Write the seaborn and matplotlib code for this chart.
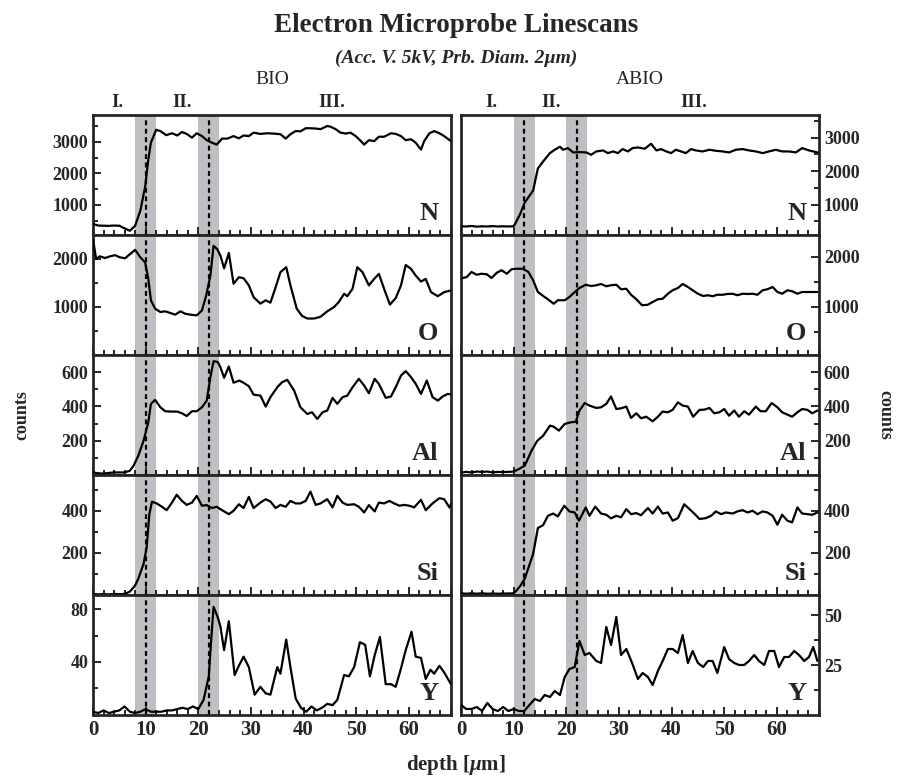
import pandas as pd
import seaborn as sns
import matplotlib.pyplot as plt
from matplotlib.ticker import FixedLocator, MultipleLocator

# Linescan values: (depth in um, counts)
bio_n = [(0, 390), (1, 340), (2, 335), (3, 330), (4, 340), (5, 335), (6, 250), (7, 175), (8, 330), (9, 820),
         (9.9, 1570), (10.5, 2430), (11, 2970), (12, 3380), (12.8, 3340), (13.9, 3210), (15, 3270), (16, 3200),
         (16.9, 3310), (17.8, 3250), (18.8, 3130), (19.7, 3270), (20.7, 3180), (21.6, 3050), (22.6, 2970),
         (23.5, 2910), (24.5, 3100), (25.5, 3100), (26.7, 3180), (27.7, 3110), (28.6, 3200), (29.6, 3180),
         (30.5, 3290), (31.8, 3250), (33.1, 3270), (34.3, 3260), (35.6, 3240), (36.6, 3100), (37.5, 3240),
         (38.5, 3340), (39.4, 3330), (40.4, 3430), (41.3, 3430), (42.3, 3420), (43.2, 3400), (44.5, 3500),
         (45.1, 3480), (46.1, 3400), (47, 3290), (48, 3260), (48.9, 3290), (49.9, 3180), (50.9, 3020),
         (51.5, 2910), (52.4, 3050), (53.4, 3020), (54.3, 3160), (55.3, 3160), (56.6, 3270), (57.5, 3250),
         (58.5, 3180), (59.4, 3050), (60.4, 3080), (61.3, 2970), (62.3, 2750), (62.9, 3020), (63.9, 3270),
         (64.8, 3340), (65.8, 3270), (66.7, 3180), (68, 3020)]
abio_n = [(0, 350), (1, 345), (2, 360), (3, 340), (4, 350), (5, 345), (6, 355), (7, 345), (8, 350), (9, 345),
          (9.9, 350), (10.2, 400), (11.2, 705), (12.1, 1060), (13.7, 1420), (14.6, 2080), (15.6, 2290),
          (16.9, 2540), (17.8, 2640), (18.8, 2730), (19.4, 2640), (20.3, 2690), (21.3, 2560), (22.5, 2570),
          (23.8, 2560), (24.7, 2490), (25.7, 2590), (27, 2620), (27.9, 2540), (28.9, 2590), (29.8, 2540),
          (30.7, 2660), (31.7, 2590), (32.6, 2690), (33.6, 2710), (34.9, 2670), (36.1, 2820), (37.1, 2620),
          (38, 2660), (39, 2590), (39.9, 2540), (40.8, 2640), (41.8, 2590), (42.7, 2540), (43.7, 2660),
          (44.6, 2620), (45.9, 2590), (47.2, 2640), (48.4, 2610), (49.7, 2590), (50.9, 2560), (52.2, 2640),
          (53.5, 2660), (54.7, 2620), (56, 2590), (57.3, 2540), (58.5, 2590), (59.8, 2640), (61, 2590),
          (62.3, 2590), (63.6, 2560), (64.8, 2690), (66.1, 2620), (67.7, 2560)]

bio_o = [(0, 2410), (0.6, 2000), (1.3, 2055), (2.3, 2020), (3.2, 2055), (4.2, 2080), (5.1, 2035), (6.1, 2015),
         (7, 2100), (8, 2190), (9, 2035), (9.9, 1930), (10.5, 1590), (11, 1140), (11.8, 965), (12.8, 895),
         (13.7, 910), (14.7, 875), (15.6, 840), (16.6, 910), (17.5, 860), (18.5, 840), (19.7, 825), (20.7, 930),
         (21.5, 1240), (22.3, 1655), (22.9, 2275), (23.6, 2205), (24.2, 2070), (24.9, 1805), (25.8, 2125),
         (26.7, 1485), (27.7, 1620), (28.6, 1600), (29.6, 1450), (30.5, 1205), (31.8, 1070), (32.8, 1140),
         (33.7, 1090), (34.7, 1415), (35.6, 1725), (36.7, 1830), (37.5, 1450), (38.7, 965), (39.7, 815),
         (40.7, 760), (42, 760), (43.2, 795), (44.5, 910), (45.8, 1000), (46.7, 1105), (47.7, 1275),
         (48.3, 1225), (49.3, 1380), (50.2, 1830), (51.2, 1725), (52.4, 1450), (53.4, 1585), (54.3, 1690),
         (55.4, 1345), (56.4, 1050), (57.5, 1185), (58.5, 1450), (59.4, 1875), (60.4, 1795), (61.3, 1655),
         (62.3, 1530), (63.2, 1585), (64.2, 1310), (65.5, 1225), (66.7, 1310), (68, 1345)]
abio_o = [(0, 1570), (1.1, 1600), (2, 1700), (3, 1645), (3.9, 1665), (4.9, 1655), (5.8, 1580), (6.8, 1685),
          (7.7, 1735), (8.7, 1665), (9.6, 1755), (10.5, 1765), (11.8, 1765), (12.8, 1700), (13.7, 1535),
          (14.6, 1300), (15.6, 1220), (16.5, 1155), (17.6, 1065), (18.4, 1135), (19.7, 1135), (20.6, 1200),
          (21.6, 1300), (22.5, 1380), (23.7, 1445), (24.7, 1420), (25.7, 1435), (26.6, 1460), (27.6, 1415),
          (28.5, 1435), (29.5, 1445), (30.4, 1355), (31.4, 1365), (32.3, 1245), (33.3, 1155), (34.4, 1035),
          (35.5, 1045), (36.4, 1100), (37.4, 1155), (38.3, 1165), (39.3, 1265), (40.2, 1335), (41.2, 1380),
          (42.1, 1460), (43.1, 1400), (44, 1335), (45, 1265), (46, 1220), (46.9, 1235), (47.8, 1215),
          (48.7, 1245), (49.7, 1245), (50.6, 1260), (51.6, 1265), (52.5, 1235), (53.5, 1265), (54.4, 1260),
          (55.4, 1265), (56.3, 1245), (57.3, 1335), (58.2, 1355), (59.2, 1400), (60.1, 1300), (61, 1265),
          (62, 1335), (62.9, 1315), (63.9, 1265), (64.8, 1300), (66.1, 1300), (67.7, 1300)]

bio_al = [(0, 15), (1, 10), (2, 8), (3, 12), (4, 15), (5, 15), (6, 15), (7, 25), (7.7, 54), (8.6, 112),
          (9.6, 200), (10.5, 307), (11, 415), (11.8, 438), (12.8, 395), (13.7, 372), (14.7, 370), (16, 370),
          (16.9, 360), (17.8, 344), (18.8, 372), (19.7, 372), (20.7, 395), (21.6, 434), (22.3, 571), (22.9, 664),
          (23.7, 659), (24.2, 629), (24.9, 567), (25.8, 633), (26.7, 538), (27.8, 551), (28.6, 538), (29.6, 518),
          (30.5, 469), (31.8, 463), (32.8, 399), (33.7, 454), (35, 512), (35.9, 541), (36.9, 555), (38.2, 493),
          (39.4, 395), (40.7, 356), (41.6, 366), (42.6, 327), (43.6, 366), (44.5, 376), (45.5, 450), (46.4, 415),
          (47.4, 454), (48.3, 463), (49.3, 512), (50.5, 561), (51.5, 522), (52.4, 477), (53.5, 561), (54.3, 531),
          (55.6, 450), (56.6, 458), (57.5, 512), (58.5, 580), (59.4, 606), (60.4, 571), (61.3, 532), (62.3, 473),
          (63.4, 551), (64.5, 454), (65.5, 434), (66.4, 458), (67.4, 473), (68.3, 469)]
abio_al = [(0, 15), (1, 18), (2, 15), (3, 20), (4, 18), (5, 20), (6, 15), (7, 18), (8, 17), (9, 18), (10, 20),
           (11, 35), (12.1, 54), (13.4, 142), (14.5, 200), (15.6, 229), (16.9, 288), (17.6, 282), (18.6, 259),
           (19.7, 298), (20.8, 307), (21.8, 311), (22.5, 376), (23.5, 420), (24.4, 405), (25.7, 391), (26.6, 395),
           (27.6, 415), (28.5, 458), (29.5, 385), (30.4, 389), (31.4, 399), (32.3, 333), (33.3, 360), (34.2, 331),
           (35.2, 340), (36.4, 313), (37.4, 340), (38.3, 370), (39.3, 366), (40.2, 380), (41.2, 424), (42.1, 405),
           (43.1, 399), (44.1, 340), (45.3, 380), (46.2, 381), (47.2, 391), (48.1, 360), (49.1, 366), (50, 385),
           (50.9, 346), (51.9, 376), (52.8, 340), (53.8, 372), (54.7, 352), (56, 399), (56.9, 372), (57.9, 372),
           (59, 420), (60.1, 395), (61, 366), (62, 352), (62.9, 340), (63.9, 366), (64.8, 385), (65.8, 380),
           (66.7, 360), (67.7, 376)]

bio_si = [(0, 5), (1, 3), (2, 4), (3, 3), (4, 5), (5, 4), (6, 5), (7, 16), (8, 45), (8.6, 77), (9.6, 148),
          (10.2, 227), (10.7, 384), (11.2, 443), (12.1, 435), (13.1, 419), (14, 403), (15, 439), (15.9, 476),
          (16.9, 447), (17.8, 428), (18.8, 439), (19.7, 471), (20.7, 424), (21.6, 427), (22.6, 413), (23.5, 419),
          (24.5, 403), (25.8, 384), (26.7, 400), (27.7, 431), (28.6, 413), (29.6, 466), (30.5, 413), (31.8, 439),
          (32.8, 455), (33.7, 444), (34.7, 413), (35.6, 428), (36.6, 419), (37.5, 447), (38.5, 435), (39.4, 435),
          (40.4, 447), (41.3, 491), (42.3, 428), (43.2, 435), (44.5, 455), (45.5, 416), (46.4, 471), (47.4, 439),
          (48.3, 428), (49.6, 431), (50.5, 419), (51.5, 392), (52.4, 427), (53.5, 397), (54.3, 439), (55.3, 435),
          (56.3, 447), (57.2, 435), (58.2, 424), (59.1, 428), (60.1, 424), (61, 416), (62.3, 452), (63.2, 403),
          (64.5, 435), (65.8, 460), (66.7, 455), (67.7, 416), (68.3, 447)]
abio_si = [(0, 8), (1, 6), (2, 8), (3, 6), (4, 8), (5, 6), (6, 7), (7, 6), (8, 7), (9, 7), (10, 8), (10.5, 20),
           (11.3, 45), (12.1, 77), (13.7, 195), (14.6, 318), (15.6, 332), (16.5, 376), (17.5, 387), (18.4, 373),
           (19.6, 424), (20.6, 397), (21.6, 392), (22.4, 353), (23.7, 416), (24.4, 376), (25.5, 420), (26.6, 387),
           (27.6, 381), (28.5, 364), (29.5, 376), (30.4, 369), (31.4, 408), (32.3, 384), (33.3, 389), (34.2, 379),
           (35.5, 413), (36.4, 387), (37.4, 420), (38.3, 387), (39.3, 392), (40.2, 353), (41.2, 365), (42.4, 431),
           (43.4, 408), (44.3, 387), (45.3, 361), (46.5, 365), (47.5, 376), (48.4, 397), (49.4, 384), (50.3, 392),
           (51.6, 387), (52.5, 397), (53.5, 403), (54.4, 392), (55.4, 400), (56.3, 384), (57.3, 397), (58.2, 392),
           (59.2, 376), (60.1, 334), (61, 381), (62, 353), (62.9, 345), (63.9, 416), (64.8, 387), (65.8, 384),
           (66.7, 381), (67.7, 392)]

bio_y = [(0, 2), (1, 1), (2, 3), (3, 1), (4, 2), (5, 3), (6, 6), (7, 2), (8, 1), (9, 2), (10, 4), (11, 2),
         (12, 2), (13, 2), (14, 3), (15, 3), (16, 4), (17, 5), (18, 4), (19, 6), (20, 4), (21, 11), (22, 29),
         (22.4, 54), (22.9, 82), (23.7, 74), (24.2, 67), (24.9, 49), (25.8, 71), (26.9, 30), (27.7, 37),
         (28.6, 44), (29.6, 36), (30.7, 15), (31.8, 21), (32.8, 16), (33.7, 15), (35, 36), (35.6, 31), (36.7, 57),
         (37.5, 36), (38.5, 12), (39.5, 5), (40.5, 2), (41.5, 6), (42.5, 3), (43.5, 5), (44.5, 8), (45.5, 7),
         (46.4, 11), (47.7, 30), (48.6, 29), (49.6, 36), (50.7, 55), (51.7, 53), (52.6, 29), (53.5, 45),
         (54.5, 59), (55.6, 23), (56.6, 23), (57.5, 21), (58.5, 35), (59.4, 49), (60.5, 63), (61.3, 44),
         (62.3, 43), (63.2, 27), (64.1, 34), (64.8, 31), (65.8, 37), (66.7, 32), (68, 23)]
abio_y = [(0, 5), (1, 3), (2, 3), (3, 4), (4, 2), (5, 6), (6, 3), (7, 2), (8, 4), (9, 2), (10, 3), (11, 2),
          (12, 2), (13, 5), (14, 8), (15, 7), (15.9, 10), (16.9, 9), (17.8, 12), (18.8, 10), (19.7, 19),
          (20.6, 23), (21.6, 24), (22.5, 37), (23.5, 30), (24.4, 31), (25.7, 27), (26.6, 26), (27.6, 44),
          (28.5, 35), (29.5, 49), (30.4, 30), (31.4, 33), (32.5, 26), (33.6, 18), (34.5, 21), (35.5, 19),
          (36.4, 15), (37.4, 22), (38.3, 27), (39.3, 33), (40.2, 33), (41.2, 31), (42.1, 40), (43.1, 26),
          (44, 32), (45, 26), (46, 24), (46.9, 27), (47.8, 27), (48.7, 21), (50, 34), (50.9, 28), (51.9, 26),
          (52.8, 25), (53.8, 25), (54.7, 27), (55.7, 30), (56.6, 27), (57.6, 25), (58.5, 32), (59.5, 32),
          (60.4, 24), (61.4, 29), (62.3, 29), (63.3, 32), (64.2, 30), (65.2, 27), (66.1, 29), (66.9, 34),
          (67.7, 27)]

elements = ['N', 'O', 'Al', 'Si', 'Y']
bio_series = [bio_n, bio_o, bio_al, bio_si, bio_y]
abio_series = [abio_n, abio_o, abio_al, abio_si, abio_y]
bio_ylims = [(40, 3850), (0, 2500), (0, 700), (0, 570), (-0.5, 91)]
abio_ylims = [(90, 3680), (40, 2440), (0, 700), (0, 570), (0, 60)]
bio_ticks = [[1000, 2000, 3000], [1000, 2000], [200, 400, 600], [200, 400], [40, 80]]
abio_ticks = [[1000, 2000, 3000], [1000, 2000], [200, 400, 600], [200, 400], [25, 50]]
bio_minor = [[500, 1500, 2500, 3500], [500, 1500], [100, 300, 500], [100, 300, 500], [20, 60]]
abio_minor = [[500, 1500, 2500, 3500], [500, 1500], [100, 300, 500], [100, 300, 500], [12.5, 37.5]]

# shaded interface zones and their centre lines
bio_bands = [(8, 12), (20, 24)]
bio_dash = [10, 22]
abio_bands = [(10, 14), (20, 24)]
abio_dash = [12, 22]
zone_labels = ['I.', 'II.', 'III.']
bio_zone_pos = [4.7, 17.0, 45.3]
abio_zone_pos = [5.7, 17.1, 44.2]

sns.set_style("ticks")
plt.rcParams['font.family'] = ['Liberation Serif', 'DejaVu Serif']
plt.rcParams['mathtext.fontset'] = 'custom'
plt.rcParams['mathtext.it'] = 'Liberation Serif:italic:bold'
plt.rcParams['mathtext.rm'] = 'Liberation Serif:bold'

W, H = 897, 776
fig = plt.figure(figsize=(W / 100, H / 100), dpi=100)

top, row_h = 115, 120
col_x = [93, 461]
col_w = 358

for col, (series, ylims, ticks, minors, bands, dashes) in enumerate([
        (bio_series, bio_ylims, bio_ticks, bio_minor, bio_bands, bio_dash),
        (abio_series, abio_ylims, abio_ticks, abio_minor, abio_bands, abio_dash)]):
    for row in range(5):
        y0 = 1 - (top + row_h * (row + 1)) / H
        ax = fig.add_axes([col_x[col] / W, y0, col_w / W, row_h / H])
        for lo, hi in bands:
            ax.axvspan(lo, hi, color='#bfbfc3', lw=0, zorder=0)
        for d in dashes:
            ax.axvline(d, color='black', lw=1.6, ls=(0, (2.2, 1.6)), zorder=1)
        df = pd.DataFrame(series[row], columns=['depth', 'counts'])
        sns.lineplot(data=df, x='depth', y='counts', ax=ax, color='black', lw=1.6, zorder=3)
        ax.set_xlim(0, 68)
        ax.set_ylim(*ylims[row])
        ax.set_xlabel('')
        ax.set_ylabel('')
        ax.xaxis.set_major_locator(MultipleLocator(10))
        ax.xaxis.set_minor_locator(MultipleLocator(2))
        ax.yaxis.set_major_locator(FixedLocator(ticks[row]))
        ax.yaxis.set_minor_locator(FixedLocator(minors[row]))
        ax.tick_params(which='both', direction='in', width=1.4, top=False, bottom=True,
                       labelsize=13)
        ax.tick_params(which='major', length=6)
        ax.tick_params(which='minor', length=3.5)
        if col == 0:
            ax.tick_params(axis='y', which='both', left=True, right=False,
                           labelleft=True, labelright=False)
        else:
            ax.tick_params(axis='y', which='both', left=False, right=True,
                           labelleft=False, labelright=True)
        if row < 4:
            ax.tick_params(axis='x', labelbottom=False)
        for lab in ax.get_xticklabels() + ax.get_yticklabels():
            lab.set_fontweight('bold')
        if row == 4:
            ax.set_xticks([0, 10, 20, 30, 40, 50, 60])
            ax.set_xticklabels(['0', '10', '20', '30', '40', '50', '60'],
                               fontsize=15, fontweight='bold')
        for s in ax.spines.values():
            s.set_linewidth(2)
            s.set_visible(True)
        ax.text(0.965, 0.08, elements[row], transform=ax.transAxes, ha='right', va='bottom',
                fontsize=19, fontweight='bold')
        if row == 0:
            for lab, pos in zip(zone_labels, bio_zone_pos if col == 0 else abio_zone_pos):
                ax.text(pos, 1.03, lab, transform=ax.get_xaxis_transform(), ha='center',
                        va='bottom', fontsize=13.5, fontweight='bold')

fig.text(456 / W, 1 - 25 / H, 'Electron Microprobe Linescans', ha='center', va='center',
         fontsize=19.5, fontweight='bold')
fig.text(456 / W, 1 - 58 / H, '(Acc. V. 5kV, Prb. Diam. 2µm)', ha='center', va='center',
         fontsize=14, fontweight='bold', style='italic')
fig.text(272 / W, 1 - 79 / H, 'BIO', ha='center', va='center', fontsize=14)
fig.text(640 / W, 1 - 79 / H, 'ABIO', ha='center', va='center', fontsize=14)
fig.text(22 / W, 1 - 415 / H, 'counts', ha='center', va='center', rotation=90,
         fontsize=13, fontweight='bold')
fig.text(885 / W, 1 - 415 / H, 'counts', ha='center', va='center', rotation=-90,
         fontsize=13, fontweight='bold')
fig.text(456 / W, 1 - 765 / H, r'depth [$\mu$m]', ha='center', va='center',
         fontsize=15, fontweight='bold')

fig.savefig('out.png', dpi=100)
